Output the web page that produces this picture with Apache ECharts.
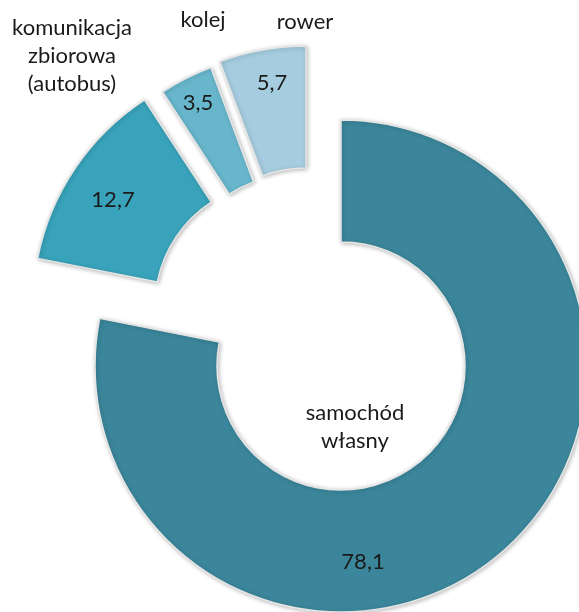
<!DOCTYPE html>
<html>
<head>
<meta charset="utf-8">
<script src="https://cdn.jsdelivr.net/npm/echarts@6/dist/echarts.min.js"></script>
<style>
    html, body { margin: 0; padding: 0; background: #fff; }
    #chart { width: 579px; height: 612px; }
</style>
</head>
<body>
<div id="chart"></div>
<script>
// dane
const categories = ['samochód własny', 'komunikacja zbiorowa (autobus)', 'kolej', 'rower']
const values = [78.1, 12.7, 3.5, 5.7]
const nameLabels = ['samochód\nwłasny', 'komunikacja\nzbiorowa\n(autobus)', 'kolej', 'rower']
const colors = ['#3B869B', '#38A3BA', '#68B6CC', '#A5CDDF']

// środki wysuniętych wycinków (px)
const centers = [[341, 366], [279, 306], [297, 298], [306, 292]]
// pozycje etykiet: wartość, nazwa
const valuePos = [[363, 562], [113, 200], [198, 103], [272, 83]]
const namePos = [[355, 427], [72, 56], [203, 20], [305, 22]]

const fmt = v => v.toFixed(1).replace('.', ',')
const font = '22px Lato, "Noto Sans", sans-serif'

const dom = document.getElementById('chart')
const myChart = echarts.init(dom)

// każdy wycinek jako osobna seria, pozostałe przezroczyste
const series = categories.map((c, k) => ({
    type: 'pie',
    center: centers[k],
    radius: [124, 246],
    startAngle: 90,
    clockwise: true,
    silent: true,
    label: { show: false },
    labelLine: { show: false },
    emphasis: { disabled: true },
    data: categories.map((n, i) => ({
        name: n,
        value: values[i],
        itemStyle: i === k ? {
            color: colors[k],
            borderColor: '#e6e6e6',
            borderWidth: 1.5,
            shadowBlur: 4,
            shadowColor: 'rgba(0,0,0,0.25)',
            shadowOffsetX: 1,
            shadowOffsetY: 1
        } : { color: 'rgba(0,0,0,0)', borderWidth: 0 }
    }))
}))

const texts = []
values.forEach((v, i) => {
    texts.push({
        type: 'text', x: valuePos[i][0], y: valuePos[i][1], z: 100,
        style: { text: fmt(v), font: font, fill: '#1a1a1a', align: 'center', verticalAlign: 'middle', textAlign: 'center', textVerticalAlign: 'middle' }
    })
    texts.push({
        type: 'text', x: namePos[i][0], y: namePos[i][1], z: 100,
        style: { text: nameLabels[i], font: font, lineHeight: 28, fill: '#1a1a1a', align: 'center', verticalAlign: 'middle', textAlign: 'center', textVerticalAlign: 'middle' }
    })
})

myChart.setOption({
    animation: false,
    backgroundColor: '#fff',
    series: series,
    graphic: texts
})
</script>
</body>
</html>
